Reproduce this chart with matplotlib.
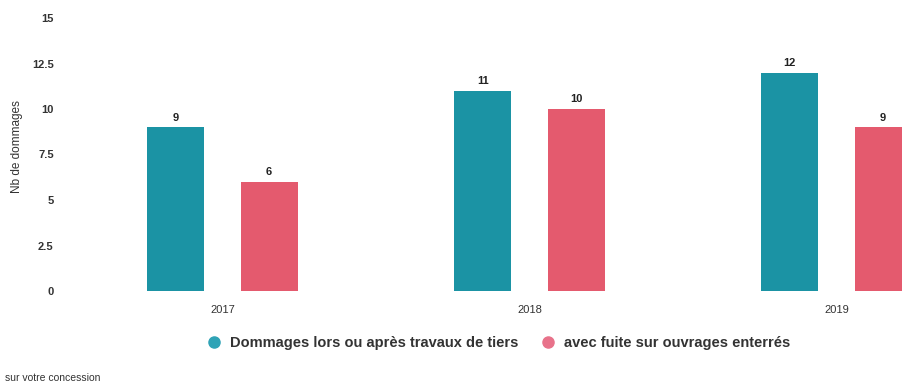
import numpy as np
import matplotlib.pyplot as plt
from matplotlib.lines import Line2D

plt.rcParams['font.family'] = ['Liberation Sans', 'DejaVu Sans']

years = ['2017', '2018', '2019']
travaux_tiers = [9, 11, 12]
fuite_enterres = [6, 10, 9]
series_names = ['Dommages lors ou après travaux de tiers',
                'avec fuite sur ouvrages enterrés']
yticks = [0, 2.5, 5, 7.5, 10, 12.5, 15]

teal = '#1b93a4'
pink = '#e45a6e'

fig = plt.figure(figsize=(9.03, 3.85), dpi=100)
ax = fig.add_axes([69 / 903, 94 / 385, (903 - 69) / 903, (291 - 18) / 385])

x = np.arange(len(years))
w = 0.186
off = 0.152
b1 = ax.bar(x - off, travaux_tiers, w, color=teal)
b2 = ax.bar(x + off, fuite_enterres, w, color=pink)

for bars, vals in ((b1, travaux_tiers), (b2, fuite_enterres)):
    for r, v in zip(bars, vals):
        ax.text(r.get_x() + r.get_width() / 2, v + 0.25, str(v),
                ha='center', va='bottom', fontsize=8, fontweight='bold',
                color='#222222')

ax.set_xlim(-0.5, 2.217)
ax.set_ylim(0, 15)
ax.set_yticks(yticks)
ax.set_yticklabels(['0', '2.5', '5', '7.5', '10', '12.5', '15'],
                   fontsize=8, color='#333333', fontweight='bold')
ax.set_xticks(x)
ax.set_xticklabels(years, fontsize=8, color='#333333')
ax.tick_params(axis='both', length=0)
ax.tick_params(axis='y', pad=11)
ax.tick_params(axis='x', pad=10)
for s in ax.spines.values():
    s.set_visible(False)
ax.set_ylabel('Nb de dommages', fontsize=8.5, color='#333333')
ax.yaxis.set_label_coords(-(69 - 23) / (903 - 69), 0.53)

handles = [Line2D([], [], marker='o', linestyle='', markersize=8,
                  markerfacecolor=c, markeredgecolor=c)
           for c in ('#2fa3b6', '#e8728a')]
leg = fig.legend(handles, series_names, loc='center', ncol=2,
                 bbox_to_anchor=(495 / 903, 1 - 343 / 385), frameon=False,
                 handletextpad=0.1, columnspacing=1.0,
                 prop={'size': 10.5, 'weight': 'bold'})
for t in leg.get_texts():
    t.set_color('#333333')

fig.text(5 / 903, 1 - 378 / 385, 'sur votre concession', fontsize=7.5,
         color='#333333', va='center')

fig.savefig('out.png', dpi=100, facecolor='white')
